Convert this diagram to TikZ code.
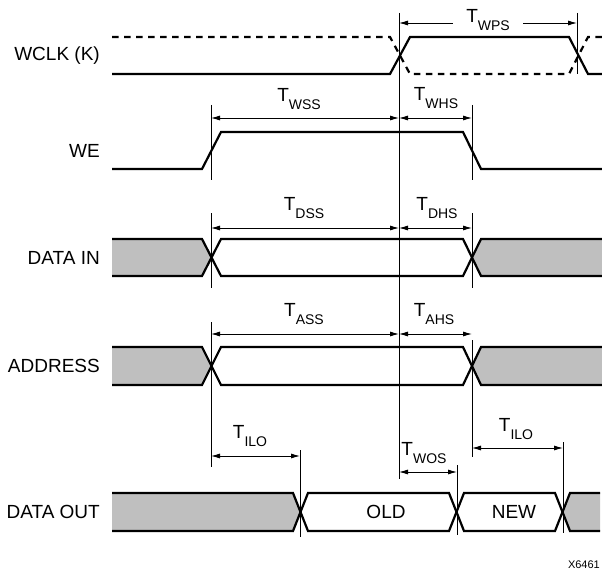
\documentclass[tikz,border=0pt]{standalone}
\usepackage{fontspec}
\setmainfont{Liberation Sans}
\usetikzlibrary{arrows.meta}

\tikzset{
  sig/.style={line width=2.2pt, line join=miter},
  bus/.style={fill=black!25},
  refline/.style={line width=0.9pt},
  dim/.style={line width=0.8pt, {Latex[length=9pt,width=5pt]}-{Latex[length=9pt,width=5pt]}},
  lbl/.style={font=\fontsize{19}{21}\selectfont, inner sep=0pt},
  tlbl/.style={lbl, anchor=south},
}
\newcommand{\tsub}[1]{T\raisebox{-8pt}{\fontsize{14}{14}\selectfont #1}}

\begin{document}
\begin{tikzpicture}[x=1pt,y=-1pt]
      \useasboundingbox (0,0) rectangle (602,572);
      % signal names
      \node[lbl, anchor=east] (wclk) at (100,55.5) {WCLK (K)};
      \node[lbl, anchor=east] (we) at (100,150.5) {WE};
      \node[lbl, anchor=east] (din) at (100,257.5) {DATA IN};
      \node[lbl, anchor=east] (addr) at (100,366) {ADDRESS};
      \node[lbl, anchor=east] (dout) at (100,512) {DATA OUT};
      % WCLK (K): solid and dashed
      \draw[sig] (112,74) -- (390,74) -- (410,37) -- (569,37) -- (588,74) -- (602,74);
      \draw[sig, dash pattern=on 6.5pt off 5.5pt] (112,37) -- (390,37) -- (410,74) -- (569,74) -- (588,37) -- (602,37);
      % WE
      \draw[sig] (112,169) -- (202,169) -- (221,132) -- (463,132) -- (481,169) -- (602,169);
      % DATA IN
      \fill[bus] (112,239) -- (202,239) -- (211.5,257.5) -- (202,276) -- (112,276) -- cycle;
      \fill[bus] (602,239) -- (481,239) -- (472,257.5) -- (481,276) -- (602,276) -- cycle;
      \draw[sig] (112,239) -- (202,239) -- (221,276) -- (463,276) -- (481,239) -- (602,239);
      \draw[sig] (112,276) -- (202,276) -- (221,239) -- (463,239) -- (481,276) -- (602,276);
      % ADDRESS
      \fill[bus] (112,347) -- (202,347) -- (211.5,366) -- (202,385) -- (112,385) -- cycle;
      \fill[bus] (602,347) -- (481,347) -- (472,366) -- (481,385) -- (602,385) -- cycle;
      \draw[sig] (112,347) -- (202,347) -- (221,385) -- (463,385) -- (481,347) -- (602,347);
      \draw[sig] (112,385) -- (202,385) -- (221,347) -- (463,347) -- (481,385) -- (602,385);
      % DATA OUT
      \fill[bus] (112,493) -- (293,493) -- (300.5,512) -- (293,531) -- (112,531) -- cycle;
      \fill[bus] (600,493) -- (570,493) -- (562.5,512) -- (570,531) -- (600,531) -- cycle;
      \draw[sig] (112,493) -- (293,493) -- (308,531) -- (449,531) -- (464,493) -- (555,493) -- (570,531) -- (600,531);
      \draw[sig] (112,531) -- (293,531) -- (308,493) -- (449,493) -- (464,531) -- (555,531) -- (570,493) -- (600,493);
      \node[lbl] (old) at (386,512) {OLD};
      \node[lbl] (new) at (514,512) {NEW};
      % reference lines
      \draw[refline] (399,13) -- (399,479);
      \draw[refline] (577,13) -- (577,74);
      \draw[refline] (211,105) -- (211,180);
      \draw[refline] (211,213) -- (211,288);
      \draw[refline] (211,322) -- (211,467);
      \draw[refline] (472,105) -- (472,180);
      \draw[refline] (472,213) -- (472,288);
      \draw[refline] (472,340) -- (472,457);
      \draw[refline] (300,450) -- (300,537);
      \draw[refline] (457,465) -- (457,535);
      \draw[refline] (563,442) -- (563,533);
      % arrow ends
      \coordinate (wpsA) at (399,23);  \coordinate (wpsB) at (577,23);
      \coordinate (wssA) at (211,118); \coordinate (wssB) at (399,118);
      \coordinate (whsB) at (472,118);
      \coordinate (dssA) at (211,228); \coordinate (dssB) at (399,228);
      \coordinate (dhsB) at (472,228);
      \coordinate (assA) at (211,334); \coordinate (assB) at (399,334);
      \coordinate (ahsB) at (472,334);
      \coordinate (iloA) at (211,456); \coordinate (iloB) at (300,456);
      \coordinate (wosA) at (399,472); \coordinate (wosB) at (457,472);
      \coordinate (ilotA) at (472,448); \coordinate (ilotB) at (563,448);
      % timing arrows
      \draw[dim] (wpsA) -- (wpsB);
      \draw[dim] (wssA) -- (wssB);
      \draw[dim] (wssB) -- (whsB);
      \draw[dim] (dssA) -- (dssB);
      \draw[dim] (dssB) -- (dhsB);
      \draw[dim] (assA) -- (assB);
      \draw[dim] (assB) -- (ahsB);
      \draw[dim] (iloA) -- (iloB);
      \draw[dim] (wosA) -- (wosB);
      \draw[dim] (ilotA) -- (ilotB);
      % timing labels
      \node[tlbl, fill=white, inner xsep=13pt] (twps) at (488,30.7) {\tsub{WPS}};
      \node[tlbl] (twss) at (299,110) {\tsub{WSS}};
      \node[tlbl] (twhs) at (436,109) {\tsub{WHS}};
      \node[tlbl] (tdss) at (304,219) {\tsub{DSS}};
      \node[tlbl] (tdhs) at (437,219) {\tsub{DHS}};
      \node[tlbl] (tass) at (304,325) {\tsub{ASS}};
      \node[tlbl] (tahs) at (434,325) {\tsub{AHS}};
      \node[tlbl] (tilo) at (250,447) {\tsub{ILO}};
      \node[tlbl] (twos) at (424,464) {\tsub{WOS}};
      \node[tlbl] (tilot) at (516,440) {\tsub{ILO}};
      % figure number
      \node[inner sep=0pt, anchor=east, font=\fontsize{11}{12}\selectfont] (fig) at (600,565) {X6461};
    \end{tikzpicture}
\end{document}
